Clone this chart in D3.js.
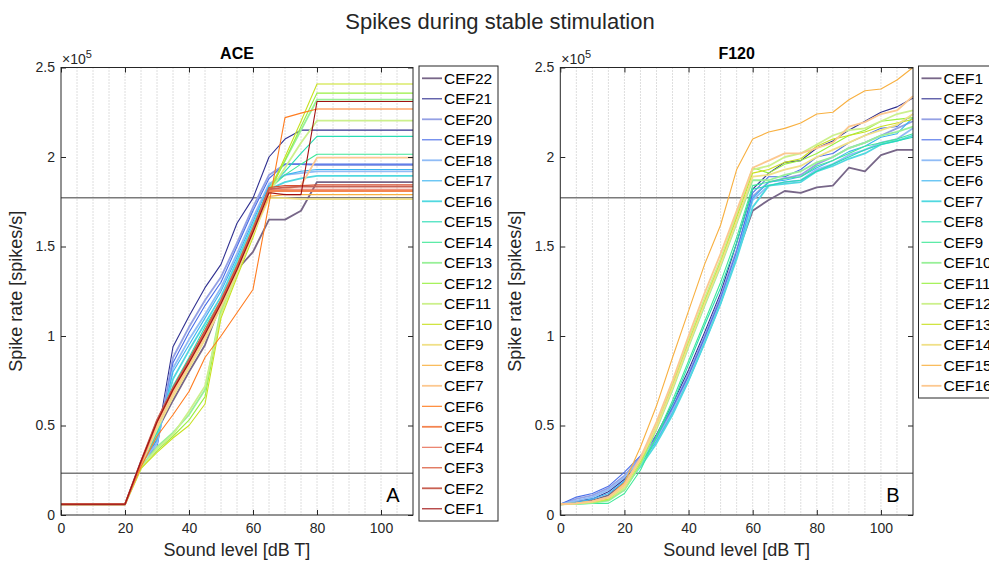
<!DOCTYPE html>
<html>
<head>
<meta charset="utf-8">
<script src="https://cdn.jsdelivr.net/npm/d3@7"></script>
<style>
body { margin: 0; background: #fff; }
svg { font-family: "Liberation Sans", Arial, Helvetica, sans-serif; }
</style>
</head>
<body>
<svg width="989" height="562"></svg>
<script>
// sound level steps [dB T]
const levels = [0, 5, 10, 15, 20, 25, 30, 35, 40, 45, 50, 55, 60, 65, 70, 75, 80, 85, 90, 95, 100, 105, 110];

// colour index 1..22 (thick ones are drawn a bit wider)
const colorList = ["#776688", "#303090", "#94a0e4", "#4a6ee8", "#90bcf6", "#3cb4f0", "#50d8e0", "#28dcb4",
    "#40e898", "#98f098", "#98f040", "#ccf08c", "#c8e020", "#f0e088", "#f8b040", "#fcc890",
    "#ff7c20", "#f48450", "#e87058", "#d85030", "#c86052", "#a01010"];
const thickList = [1, 0, 1, 0, 1, 0, 1, 0, 0, 1, 0, 1, 0, 1, 0, 1, 0, 1, 0, 0, 1, 0];

// spike rate in units of 1e5 spikes/s
const aceNames = ["CEF22", "CEF21", "CEF20", "CEF19", "CEF18", "CEF17", "CEF16", "CEF15", "CEF14", "CEF13", "CEF12",
    "CEF11", "CEF10", "CEF9", "CEF8", "CEF7", "CEF6", "CEF5", "CEF4", "CEF3", "CEF2", "CEF1"];
const aceValues = [
    [0.06, 0.06, 0.06, 0.06, 0.06, 0.28, 0.47, 0.64, 0.80, 0.95, 1.18, 1.37, 1.47, 1.65, 1.65, 1.70, 1.86, 1.86, 1.86, 1.86, 1.86, 1.86, 1.86],
    [0.06, 0.06, 0.06, 0.06, 0.06, 0.28, 0.42, 0.94, 1.11, 1.27, 1.40, 1.63, 1.77, 2.00, 2.10, 2.15, 2.15, 2.15, 2.15, 2.15, 2.15, 2.15, 2.15],
    [0.06, 0.06, 0.06, 0.06, 0.06, 0.30, 0.40, 0.88, 1.05, 1.20, 1.33, 1.52, 1.72, 1.90, 1.96, 1.96, 1.955, 1.955, 1.955, 1.955, 1.955, 1.955, 1.955],
    [0.06, 0.06, 0.06, 0.06, 0.06, 0.30, 0.38, 0.85, 1.02, 1.17, 1.30, 1.50, 1.70, 1.88, 1.96, 1.96, 1.96, 1.96, 1.96, 1.96, 1.96, 1.96, 1.96],
    [0.06, 0.06, 0.06, 0.06, 0.06, 0.29, 0.40, 0.82, 0.98, 1.12, 1.27, 1.46, 1.66, 1.85, 1.90, 1.91, 1.92, 1.92, 1.92, 1.92, 1.92, 1.92, 1.92],
    [0.06, 0.06, 0.06, 0.06, 0.06, 0.29, 0.42, 0.80, 0.95, 1.10, 1.25, 1.44, 1.64, 1.84, 1.90, 1.92, 1.93, 1.93, 1.93, 1.93, 1.93, 1.93, 1.93],
    [0.06, 0.06, 0.06, 0.06, 0.06, 0.28, 0.44, 0.76, 0.92, 1.07, 1.22, 1.42, 1.62, 1.82, 1.86, 1.88, 1.894, 1.894, 1.894, 1.894, 1.894, 1.894, 1.894],
    [0.06, 0.06, 0.06, 0.06, 0.06, 0.28, 0.46, 0.72, 0.88, 1.05, 1.20, 1.40, 1.60, 1.83, 1.92, 2.02, 2.115, 2.115, 2.115, 2.115, 2.115, 2.115, 2.115],
    [0.06, 0.06, 0.06, 0.06, 0.06, 0.28, 0.47, 0.70, 0.86, 1.02, 1.18, 1.38, 1.58, 1.82, 1.90, 1.96, 2.015, 2.015, 2.015, 2.015, 2.015, 2.015, 2.015],
    [0.06, 0.06, 0.06, 0.06, 0.06, 0.27, 0.38, 0.46, 0.56, 0.70, 1.15, 1.38, 1.60, 1.82, 1.98, 2.15, 2.32, 2.32, 2.32, 2.32, 2.32, 2.32, 2.32],
    [0.06, 0.06, 0.06, 0.06, 0.06, 0.26, 0.36, 0.44, 0.53, 0.66, 1.13, 1.36, 1.58, 1.80, 1.98, 2.17, 2.357, 2.357, 2.357, 2.357, 2.357, 2.357, 2.357],
    [0.06, 0.06, 0.06, 0.06, 0.06, 0.26, 0.37, 0.45, 0.58, 0.72, 1.12, 1.35, 1.57, 1.80, 1.94, 2.08, 2.203, 2.203, 2.203, 2.203, 2.203, 2.203, 2.203],
    [0.06, 0.06, 0.06, 0.06, 0.06, 0.26, 0.35, 0.43, 0.50, 0.62, 1.10, 1.33, 1.55, 1.80, 2.00, 2.20, 2.408, 2.408, 2.408, 2.408, 2.408, 2.408, 2.408],
    [0.06, 0.06, 0.06, 0.06, 0.06, 0.28, 0.48, 0.66, 0.82, 0.98, 1.16, 1.36, 1.57, 1.77, 1.77, 1.765, 1.765, 1.765, 1.765, 1.765, 1.765, 1.765, 1.765],
    [0.06, 0.06, 0.06, 0.06, 0.06, 0.28, 0.50, 0.68, 0.84, 1.00, 1.18, 1.37, 1.58, 1.78, 1.79, 1.79, 1.79, 1.79, 1.79, 1.79, 1.79, 1.79, 1.79],
    [0.06, 0.06, 0.06, 0.06, 0.06, 0.28, 0.50, 0.68, 0.84, 1.00, 1.17, 1.37, 1.58, 1.80, 1.82, 1.84, 1.996, 1.996, 1.996, 1.996, 1.996, 1.996, 1.996],
    [0.06, 0.06, 0.06, 0.06, 0.06, 0.27, 0.44, 0.56, 0.69, 0.88, 1.00, 1.13, 1.26, 1.74, 2.22, 2.245, 2.268, 2.268, 2.268, 2.268, 2.268, 2.268, 2.268],
    [0.06, 0.06, 0.06, 0.06, 0.06, 0.29, 0.52, 0.70, 0.86, 1.03, 1.20, 1.39, 1.60, 1.81, 1.81, 1.81, 1.81, 1.81, 1.81, 1.81, 1.81, 1.81, 1.81],
    [0.06, 0.06, 0.06, 0.06, 0.06, 0.29, 0.52, 0.70, 0.86, 1.02, 1.19, 1.38, 1.59, 1.82, 1.82, 1.82, 1.82, 1.82, 1.82, 1.82, 1.82, 1.82, 1.82],
    [0.06, 0.06, 0.06, 0.06, 0.06, 0.30, 0.53, 0.71, 0.87, 1.03, 1.20, 1.39, 1.60, 1.83, 1.84, 1.84, 1.844, 1.844, 1.844, 1.844, 1.844, 1.844, 1.844],
    [0.06, 0.06, 0.06, 0.06, 0.06, 0.30, 0.53, 0.71, 0.86, 1.02, 1.19, 1.38, 1.59, 1.82, 1.83, 1.835, 1.835, 1.835, 1.835, 1.835, 1.835, 1.835, 1.835],
    [0.06, 0.06, 0.06, 0.06, 0.06, 0.30, 0.52, 0.70, 0.85, 1.01, 1.18, 1.37, 1.58, 1.80, 1.79, 1.79, 2.31, 2.31, 2.31, 2.31, 2.31, 2.31, 2.31]
];
const aceColorIdx = [1, 2, 3, 4, 5, 6, 7, 8, 9, 10, 11, 12, 13, 14, 15, 16, 17, 18, 19, 20, 21, 22];

const f120Names = ["CEF1", "CEF2", "CEF3", "CEF4", "CEF5", "CEF6", "CEF7", "CEF8", "CEF9", "CEF10", "CEF11",
    "CEF12", "CEF13", "CEF14", "CEF15", "CEF16"];
const f120Values = [
    [0.06, 0.07, 0.08, 0.11, 0.18, 0.30, 0.43, 0.59, 0.78, 0.99, 1.20, 1.45, 1.70, 1.76, 1.81, 1.80, 1.83, 1.84, 1.94, 1.92, 2.01, 2.04, 2.04],
    [0.06, 0.08, 0.09, 0.13, 0.20, 0.31, 0.45, 0.62, 0.81, 1.02, 1.24, 1.52, 1.82, 1.91, 1.97, 1.98, 2.05, 2.09, 2.15, 2.20, 2.25, 2.28, 2.33],
    [0.06, 0.09, 0.11, 0.15, 0.22, 0.32, 0.44, 0.60, 0.79, 1.00, 1.22, 1.48, 1.78, 1.86, 1.88, 1.90, 1.96, 2.00, 2.05, 2.08, 2.12, 2.16, 2.20],
    [0.06, 0.10, 0.12, 0.16, 0.24, 0.33, 0.44, 0.60, 0.78, 0.99, 1.21, 1.47, 1.80, 1.89, 1.89, 1.93, 2.00, 2.02, 2.08, 2.12, 2.16, 2.17, 2.24],
    [0.06, 0.08, 0.10, 0.14, 0.21, 0.31, 0.42, 0.58, 0.76, 0.97, 1.19, 1.45, 1.76, 1.84, 1.86, 1.87, 1.93, 1.96, 2.01, 2.04, 2.08, 2.10, 2.16],
    [0.06, 0.07, 0.09, 0.12, 0.19, 0.29, 0.41, 0.57, 0.75, 0.96, 1.18, 1.44, 1.77, 1.86, 1.87, 1.89, 1.94, 1.98, 2.03, 2.06, 2.11, 2.13, 2.22],
    [0.06, 0.065, 0.075, 0.10, 0.16, 0.27, 0.40, 0.56, 0.75, 0.96, 1.18, 1.43, 1.72, 1.84, 1.85, 1.86, 1.92, 1.95, 1.99, 2.02, 2.07, 2.09, 2.12],
    [0.06, 0.062, 0.07, 0.085, 0.14, 0.28, 0.43, 0.62, 0.84, 1.06, 1.27, 1.52, 1.82, 1.84, 1.86, 1.87, 1.92, 1.96, 2.00, 2.04, 2.07, 2.09, 2.11],
    [0.06, 0.06, 0.065, 0.065, 0.12, 0.25, 0.44, 0.64, 0.86, 1.08, 1.30, 1.55, 1.84, 1.86, 1.88, 1.89, 1.95, 1.98, 2.02, 2.06, 2.08, 2.10, 2.13],
    [0.06, 0.062, 0.068, 0.08, 0.14, 0.28, 0.48, 0.70, 0.94, 1.17, 1.39, 1.63, 1.87, 1.87, 1.90, 1.92, 1.97, 2.00, 2.05, 2.08, 2.12, 2.14, 2.17],
    [0.06, 0.063, 0.07, 0.085, 0.15, 0.29, 0.49, 0.72, 0.97, 1.20, 1.42, 1.68, 1.94, 1.91, 1.96, 1.98, 2.02, 2.07, 2.12, 2.15, 2.20, 2.21, 2.22],
    [0.06, 0.064, 0.072, 0.09, 0.15, 0.30, 0.50, 0.73, 0.98, 1.21, 1.43, 1.68, 1.93, 1.95, 2.00, 2.02, 2.07, 2.12, 2.15, 2.16, 2.20, 2.24, 2.26],
    [0.06, 0.064, 0.073, 0.09, 0.16, 0.30, 0.49, 0.72, 0.96, 1.19, 1.41, 1.66, 1.91, 1.93, 1.97, 1.99, 2.06, 2.10, 2.12, 2.14, 2.17, 2.19, 2.21],
    [0.06, 0.065, 0.075, 0.095, 0.16, 0.31, 0.49, 0.71, 0.95, 1.18, 1.40, 1.64, 1.89, 1.90, 1.93, 1.95, 2.00, 2.04, 2.08, 2.12, 2.15, 2.18, 2.24],
    [0.06, 0.066, 0.078, 0.10, 0.18, 0.38, 0.61, 0.88, 1.14, 1.40, 1.62, 1.93, 2.10, 2.14, 2.16, 2.19, 2.24, 2.25, 2.32, 2.37, 2.38, 2.43, 2.50],
    [0.06, 0.065, 0.076, 0.10, 0.17, 0.32, 0.52, 0.75, 1.00, 1.24, 1.46, 1.70, 1.94, 1.98, 2.02, 2.02, 2.05, 2.08, 2.17, 2.195, 2.24, 2.26, 2.34]
];
const f120ColorIdx = [1, 2, 3, 4, 5, 6, 7, 8, 9, 10, 11, 12, 13, 14, 15, 16];

const xTicks = [0, 20, 40, 60, 80, 100];
const yTicks = [0, 0.5, 1, 1.5, 2, 2.5];
const yTickLabels = ["0", "0.5", "1", "1.5", "2", "2.5"];
const refLines = [0.233, 1.772];

const axisColor = "#262626";

document.addEventListener("DOMContentLoaded", function() {
    const svg = d3.select("svg");

    svg.append("text")
        .attr("x", 500)
        .attr("y", 29)
        .attr("text-anchor", "middle")
        .style("font-size", "22px")
        .style("fill", axisColor)
        .text("Spikes during stable stimulation");

    drawPanel(svg, {
        left: 61, right: 413, top: 67.5, bottom: 515,
        title: "ACE", letter: "A",
        names: aceNames, values: aceValues, colorIdx: aceColorIdx,
        legendX: 419, legendW: 79
    });

    drawPanel(svg, {
        left: 560.3, right: 913, top: 67.5, bottom: 515,
        title: "F120", letter: "B",
        names: f120Names, values: f120Values, colorIdx: f120ColorIdx,
        legendX: 918.5, legendW: 90
    });
});

function drawPanel(svg, cfg) {
    const scX = d3.scaleLinear().domain([0, 110]).range([cfg.left, cfg.right]);
    const scY = d3.scaleLinear().domain([0, 2.5]).range([cfg.bottom, cfg.top]);

    const g = svg.append("g");

    // dotted minor grid every 5 dB
    const gridX = levels.filter(d => d > 0 && d < 110);
    g.selectAll(".grid")
        .data(gridX)
        .enter()
        .append("line")
        .attr("x1", d => scX(d))
        .attr("x2", d => scX(d))
        .attr("y1", cfg.top)
        .attr("y2", cfg.bottom)
        .style("stroke", "#bdbdbd")
        .style("stroke-width", 1)
        .style("stroke-dasharray", "1,2");

    // reference levels
    g.selectAll(".ref")
        .data(refLines)
        .enter()
        .append("line")
        .attr("x1", cfg.left)
        .attr("x2", cfg.right)
        .attr("y1", d => scY(d))
        .attr("y2", d => scY(d))
        .style("stroke", "#7a7a7a")
        .style("stroke-width", 1.4);

    const line = d3.line()
        .x((d, i) => scX(levels[i]))
        .y(d => scY(d));

    cfg.values.forEach((vals, k) => {
        const ci = cfg.colorIdx[k] - 1;
        g.append("path")
            .datum(vals)
            .attr("d", line)
            .style("fill", "none")
            .style("stroke", colorList[ci])
            .style("stroke-width", thickList[ci] ? 1.8 : 1.1)
            .style("stroke-linejoin", "round");
    });

    // axes with inward ticks
    const axisB = d3.axisBottom(scX).tickValues(xTicks).tickSizeInner(-5).tickSizeOuter(0).tickPadding(8);
    const axisT = d3.axisTop(scX).tickValues(xTicks).tickSizeInner(-5).tickSizeOuter(0).tickFormat("");
    const axisL = d3.axisLeft(scY).tickValues(yTicks).tickSizeInner(-5).tickSizeOuter(0).tickPadding(6)
        .tickFormat((d, i) => yTickLabels[i]);
    const axisR = d3.axisRight(scY).tickValues(yTicks).tickSizeInner(-5).tickSizeOuter(0).tickFormat("");

    const gB = g.append("g").attr("transform", `translate(0, ${cfg.bottom})`).call(axisB);
    const gT = g.append("g").attr("transform", `translate(0, ${cfg.top})`).call(axisT);
    const gL = g.append("g").attr("transform", `translate(${cfg.left}, 0)`).call(axisL);
    const gR = g.append("g").attr("transform", `translate(${cfg.right}, 0)`).call(axisR);

    [gB, gT, gL, gR].forEach(a => {
        a.select(".domain").remove();
        a.selectAll("line").style("stroke", axisColor);
        a.selectAll("text")
            .style("fill", axisColor)
            .style("font-size", "14px")
            .style("font-family", "'Liberation Sans', Arial, sans-serif");
    });

    g.append("rect")
        .attr("x", cfg.left)
        .attr("y", cfg.top)
        .attr("width", cfg.right - cfg.left)
        .attr("height", cfg.bottom - cfg.top)
        .style("fill", "none")
        .style("stroke", axisColor)
        .style("stroke-width", 1);

    // exponent label
    const ex = g.append("text")
        .attr("x", cfg.left + 1)
        .attr("y", cfg.top - 4)
        .style("font-size", "14px")
        .style("fill", axisColor);
    ex.append("tspan").text("\u00d710");
    ex.append("tspan").attr("dy", -6).style("font-size", "11px").text("5");

    g.append("text")
        .attr("x", (cfg.left + cfg.right) / 2)
        .attr("y", cfg.top - 9)
        .attr("text-anchor", "middle")
        .style("font-size", "16px")
        .style("font-weight", "bold")
        .style("fill", "#000")
        .text(cfg.title);

    g.append("text")
        .attr("x", cfg.right - 20)
        .attr("y", cfg.bottom - 13)
        .attr("text-anchor", "middle")
        .style("font-size", "20px")
        .style("fill", "#000")
        .text(cfg.letter);

    g.append("text")
        .attr("x", (cfg.left + cfg.right) / 2)
        .attr("y", 556)
        .attr("text-anchor", "middle")
        .style("font-size", "18px")
        .style("fill", axisColor)
        .text("Sound level [dB T]");

    g.append("text")
        .attr("transform", `translate(${cfg.left - 39}, ${(cfg.top + cfg.bottom) / 2}) rotate(-90)`)
        .attr("text-anchor", "middle")
        .style("font-size", "18px")
        .style("fill", axisColor)
        .text("Spike rate [spikes/s]");

    // legend
    const rowH = 20.5;
    const lg = svg.append("g");
    lg.append("rect")
        .attr("x", cfg.legendX)
        .attr("y", 66)
        .attr("width", cfg.legendW)
        .attr("height", cfg.names.length * rowH + 4)
        .style("fill", "#fff")
        .style("stroke", axisColor)
        .style("stroke-width", 1);

    cfg.names.forEach((name, k) => {
        const ci = cfg.colorIdx[k] - 1;
        const y = 78.3 + k * rowH;
        lg.append("line")
            .attr("x1", cfg.legendX + 3)
            .attr("x2", cfg.legendX + 23)
            .attr("y1", y)
            .attr("y2", y)
            .style("stroke", colorList[ci])
            .style("stroke-width", thickList[ci] ? 1.8 : 1.1);
        lg.append("text")
            .attr("x", cfg.legendX + 25)
            .attr("y", y + 5.5)
            .style("font-size", "15.5px")
            .style("fill", "#000")
            .text(name);
    });
}
</script>
</body>
</html>
